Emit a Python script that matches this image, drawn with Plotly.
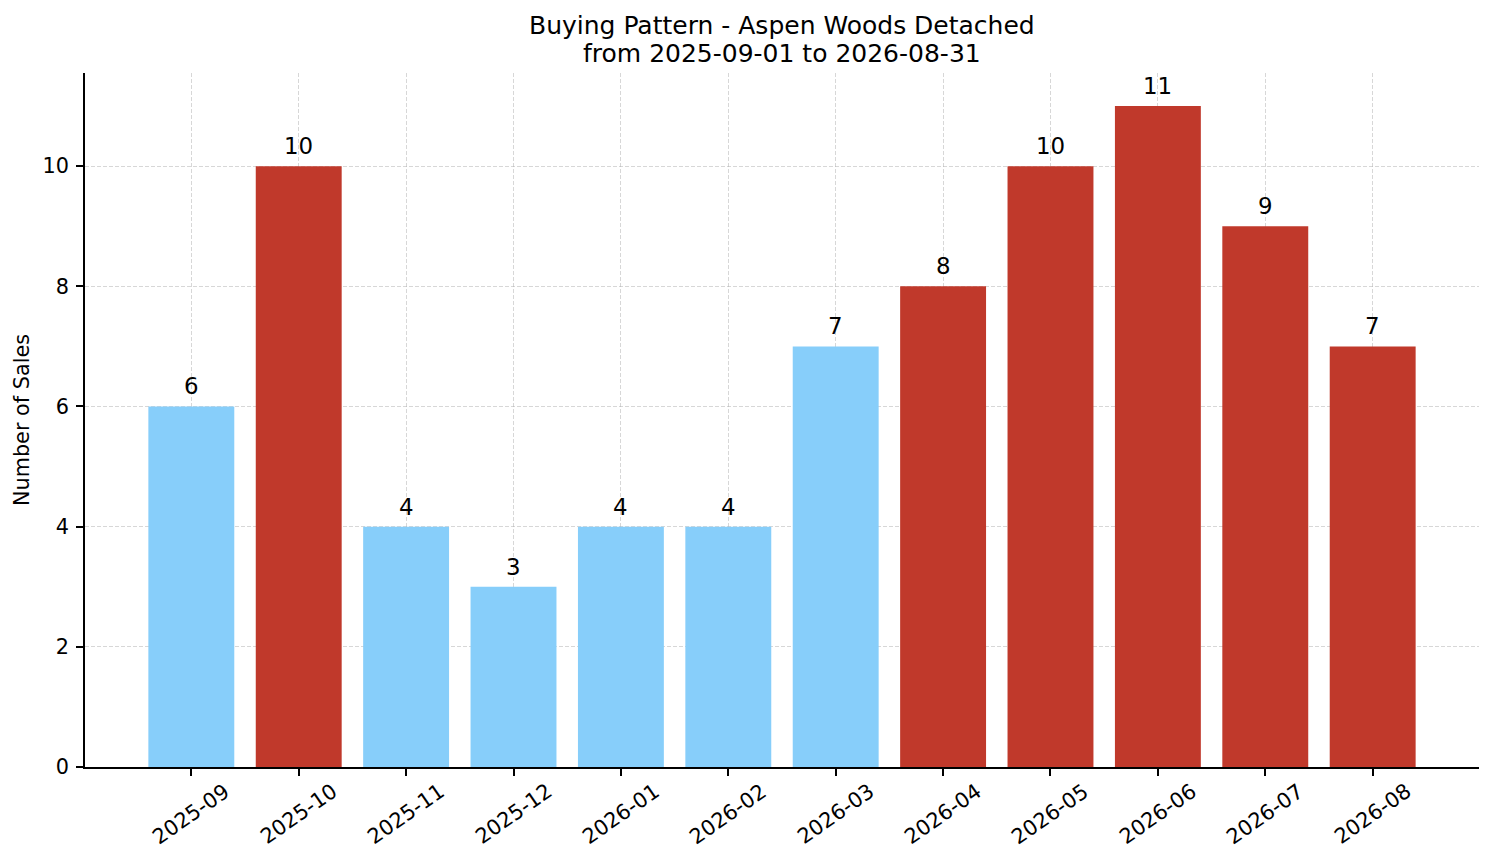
import plotly.graph_objects as go

months = ["2025-09", "2025-10", "2025-11", "2025-12", "2026-01", "2026-02",
          "2026-03", "2026-04", "2026-05", "2026-06", "2026-07", "2026-08"]
sales = [6, 10, 4, 3, 4, 4, 7, 8, 10, 11, 9, 7]
is_peak = [False, True, False, False, False, False, False, True, True, True, True, True]
title_lines = ["Buying Pattern - Aspen Woods Detached", "from 2025-09-01 to 2026-08-31"]

BLUE = "#87CEFA"
RED = "#C0392B"
colors = [RED if p else BLUE for p in is_peak]
xs = list(range(len(months)))

FONT = "DejaVu Sans"
fig = go.Figure()
fig.add_trace(go.Bar(
    x=xs, y=sales, width=0.8, marker=dict(color=colors, line=dict(width=0)),
    cliponaxis=False, hoverinfo="x+y",
))

# value labels above bars
for i, v in enumerate(sales):
    fig.add_annotation(x=i, y=v, xref="x", yref="y", text=str(v), showarrow=False,
                       xanchor="center", yanchor="middle", yshift=20,
                       font=dict(family=FONT, size=22.9, color="black"))

# rotated month tick labels centred under ticks
for i, m in enumerate(months):
    fig.add_annotation(x=i, y=0, xref="x", yref="paper", text=m, showarrow=False,
                       textangle=-35, xanchor="center", yanchor="middle", yshift=-47,
                       font=dict(family=FONT, size=21, color="black"))

# two-line title
for line, shift in zip(title_lines, [48, 20]):
    fig.add_annotation(x=0.5, y=1, xref="paper", yref="paper", text=line, showarrow=False,
                       xanchor="center", yanchor="middle", yshift=shift,
                       font=dict(family=FONT, size=25, color="black"))

GRID = "rgba(176,176,176,0.5)"
fig.update_layout(
    width=1486, height=855,
    margin=dict(l=77, r=15, t=65, b=96),
    paper_bgcolor="white", plot_bgcolor="white",
    showlegend=False,
    font=dict(family=FONT, size=20.8, color="black"),
    bargap=0.2,
)
fig.update_xaxes(
    range=[-0.99, 11.99], tickmode="array", tickvals=xs, ticktext=[""] * len(xs),
    showline=True, linecolor="black", linewidth=1.7,
    ticks="outside", ticklen=7, tickwidth=1.7, tickcolor="black",
    showgrid=True, gridcolor=GRID, griddash="4px,2px", gridwidth=1,
    zeroline=False, layer="above traces",
)
fig.update_yaxes(
    range=[0, 11.55], tickmode="array", tickvals=[0, 2, 4, 6, 8, 10],
    showline=True, linecolor="black", linewidth=1.7,
    ticks="outside", ticklen=7, tickwidth=1.7, tickcolor="black",
    tickfont=dict(family=FONT, size=20.8, color="black"), ticklabelstandoff=3,
    showgrid=True, gridcolor=GRID, griddash="4px,2px", gridwidth=1,
    zeroline=False, layer="above traces",
    title=dict(text="Number of Sales", standoff=7,
               font=dict(family=FONT, size=20.8, color="black")),
)

fig.write_html("out.html")
